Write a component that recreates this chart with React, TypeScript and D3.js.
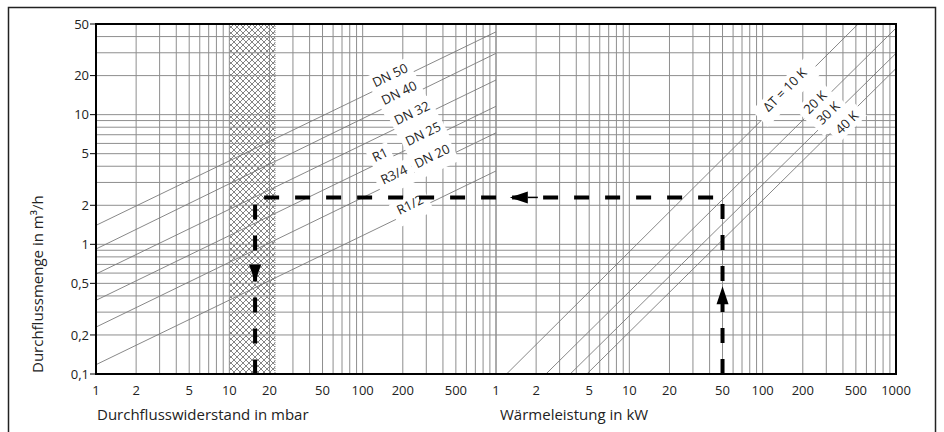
import React from 'react';
import * as d3 from 'd3';

// pipe curves (left panel): flow at 1 mbar and at 1000 mbar
const pipeNames = ['DN 50', 'DN 40', 'DN 32', 'DN 25', 'DN 20', 'R1/2'];
const pipeFlowAt1 = [1.4, 0.92, 0.59, 0.37, 0.23, 0.118];
const pipeFlowAt1000 = [43.5, 29.7, 18.5, 11.6, 7.24, 3.68];

// labels along the pipe curves: [text, curve index, mbar where it sits]
const pipeLabels: [string, number, number][] = [
  ['DN 50', 0, 169],
  ['DN 40', 1, 198],
  ['DN 32', 2, 247],
  ['DN 25', 3, 299],
  ['R1', 3, 142],
  ['DN 20', 4, 349],
  ['R3/4', 4, 181],
  ['R1/2', 5, 239],
];

// temperature spread curves (right panel): start and end points
const dtNames = ['ΔT = 10 K', '20 K', '30 K', '40 K'];
const dtStartKW = [1.2, 2.37, 3.6, 4.8];
const dtStartFlow = [0.1, 0.1, 0.1, 0.1];
const dtEndKW = [520, 1000, 1000, 1000];
const dtEndFlow = [50, 46.5, 29.7, 22.7];
const dtLabelKW = [156, 260, 329, 408];
const dtLabelSide = [5, 4, 5, -4];

// worked example
const examplePower = 50; // kW
const exampleFlow = 2.3; // m3/h
const examplePressure = 15.6; // mbar
const hatchFrom = 10;
const hatchTo = 22;

const yTicks = [0.1, 0.2, 0.5, 1, 2, 5, 10, 20, 50];
const yTickText = ['0,1', '0,2', '0,5', '1', '2', '5', '10', '20', '50'];
const leftTicks = [1, 2, 5, 10, 20, 50, 100, 200, 500];
const rightTicks = [1, 2, 5, 10, 20, 50, 100, 200, 500, 1000];

const W = 944;
const H = 432;
const L = 96, M = 496, R = 896, T = 24, B = 374;
const FONT = '"Open Sans", "DejaVu Sans", sans-serif';
const GRID = '#8e8e8e';
const CURVE = '#7a7a7a';
const TXT = '#222';

export default function App() {
  const xl = d3.scaleLog().domain([1, 1000]).range([L, M]);
  const xr = d3.scaleLog().domain([1, 1000]).range([M, R]);
  const y = d3.scaleLog().domain([0.1, 50]).range([B, T]);

  const yGrid = y.ticks();
  const xlGrid = xl.ticks();
  const xrGrid = xr.ticks();

  // position along a straight log-log line
  const onLine = (x1: number, y1: number, x2: number, y2: number, x: number) => {
    const t = Math.log(x / x1) / Math.log(x2 / x1);
    return Math.exp(Math.log(y1) + t * (Math.log(y2) - Math.log(y1)));
  };

  // text sits beside the curve, white box hides the curve below it
  const label = (text: string, px: number, py: number, ang: number, off: number, key: string) => {
    const w = text.length * 7.6 + 8;
    const top = off > 0 ? -9 : -9 + off;
    const bottom = off > 0 ? 9 + off : 9;
    return (
      <g key={key} transform={`translate(${px},${py}) rotate(${ang}) translate(0,${-off})`}>
        <rect x={-w / 2} y={top} width={w} height={bottom - top} fill="#fff" />
        <text textAnchor="middle" dy="0.35em" fontSize={13} fill={TXT} fontFamily={FONT}>{text}</text>
      </g>
    );
  };

  const xp = xl(examplePressure);
  const xk = xr(examplePower);
  const yq = y(exampleFlow);
  const dashPath = `M${xk},${B} L${xk},${yq} L${xp},${yq} L${xp},${B}`;
  const xa = xr(1.27);

  return (
    <svg width={W} height={H} style={{ position: 'absolute', left: 0, top: 0, background: '#fff' }}>
      <defs>
        <pattern id="hatch" width={6} height={6} patternUnits="userSpaceOnUse">
          <path d="M0,0 L6,6 M6,0 L0,6 M-1,5 L1,7 M5,-1 L7,1" stroke="#666" strokeWidth={0.8} />
        </pattern>
        <clipPath id="plot">
          <rect x={L} y={T} width={R - L} height={B - T} />
        </clipPath>
      </defs>

      <rect x={8.5} y={7.5} width={927} height={440} fill="none" stroke="#222" strokeWidth={1.5} />

      {/* hatched zone */}
      <rect x={xl(hatchFrom)} y={T} width={xl(hatchTo) - xl(hatchFrom)} height={B - T} fill="url(#hatch)" />
      <line x1={xl(hatchTo)} x2={xl(hatchTo)} y1={T} y2={B} stroke="#888" strokeDasharray="1,1" />

      {/* grid */}
      <g stroke={GRID} strokeWidth={1}>
        {yGrid.map((v, i) => <line key={'h' + i} x1={L} x2={R} y1={y(v)} y2={y(v)} />)}
        {xlGrid.map((v, i) => <line key={'l' + i} x1={xl(v)} x2={xl(v)} y1={T} y2={B} />)}
        {xrGrid.map((v, i) => <line key={'r' + i} x1={xr(v)} x2={xr(v)} y1={T} y2={B} />)}
      </g>

      {/* curves */}
      <g clipPath="url(#plot)" stroke={CURVE} strokeWidth={0.9} fill="none">
        {pipeNames.map((n, i) => (
          <line key={n} x1={xl(1)} y1={y(pipeFlowAt1[i])} x2={xl(1000)} y2={y(pipeFlowAt1000[i])} />
        ))}
        {dtNames.map((n, i) => (
          <line key={n} x1={xr(dtStartKW[i])} y1={y(dtStartFlow[i])} x2={xr(dtEndKW[i])} y2={y(dtEndFlow[i])} />
        ))}
      </g>

      {/* curve labels */}
      {pipeLabels.map(([t, idx, at], i) => {
        const a1 = pipeFlowAt1[idx], a2 = pipeFlowAt1000[idx];
        const ang = (Math.atan2(y(a2) - y(a1), xl(1000) - xl(1)) * 180) / Math.PI;
        return label(t, xl(at), y(onLine(1, a1, 1000, a2, at)), ang, 7, 'p' + i);
      })}
      {dtNames.map((t, i) => {
        const ang = (Math.atan2(y(dtEndFlow[i]) - y(dtStartFlow[i]), xr(dtEndKW[i]) - xr(dtStartKW[i])) * 180) / Math.PI;
        const q = onLine(dtStartKW[i], dtStartFlow[i], dtEndKW[i], dtEndFlow[i], dtLabelKW[i]);
        return label(t, xr(dtLabelKW[i]), y(q), ang, dtLabelSide[i], 'd' + i);
      })}

      {/* dashed example path */}
      <path d={dashPath} fill="none" stroke="#000" strokeWidth={4} strokeDasharray="15,16" />
      <path d={`M${xp - 6},${y(0.7)} L${xp + 6},${y(0.7)} L${xp},${y(0.51)} Z`} fill="#000" />
      <path d={`M${xa},${yq} L${xa + 18},${yq - 6} L${xa + 18},${yq + 6} Z`} fill="#000" />
      <line x1={xa + 18} x2={xa + 28} y1={yq} y2={yq} stroke="#000" strokeWidth={1.5} />
      <path d={`M${xk - 6},${y(0.345)} L${xk + 6},${y(0.345)} L${xk},${y(0.475)} Z`} fill="#000" />

      {/* frame */}
      <rect x={L} y={T} width={R - L} height={B - T} fill="none" stroke="#000" strokeWidth={2} />

      {/* axes */}
      {yTicks.map((v, i) => (
        <g key={'yt' + i}>
          <line x1={L - 6} x2={L} y1={y(v)} y2={y(v)} stroke="#000" strokeWidth={1} />
          <text x={L - 7} y={y(v)} dy="0.35em" textAnchor="end" fontSize={13} fill={TXT} fontFamily={FONT}>{yTickText[i]}</text>
        </g>
      ))}
      {leftTicks.map((v, i) => (
        <text key={'xl' + i} x={xl(v)} y={395} textAnchor="middle" fontSize={13} fill={TXT} fontFamily={FONT}>{v}</text>
      ))}
      {rightTicks.map((v, i) => (
        <text key={'xr' + i} x={xr(v)} y={395} textAnchor="middle" fontSize={13} fill={TXT} fontFamily={FONT}>{v}</text>
      ))}

      <text transform={`translate(43,${B - 1}) rotate(-90)`} fontSize={15} fill={TXT} fontFamily={FONT}>Durchflussmenge in m³/h</text>
      <text x={97} y={420} fontSize={15} fill={TXT} fontFamily={FONT}>Durchflusswiderstand in mbar</text>
      <text x={500} y={420} fontSize={15} fill={TXT} fontFamily={FONT}>Wärmeleistung in kW</text>
    </svg>
  );
}
